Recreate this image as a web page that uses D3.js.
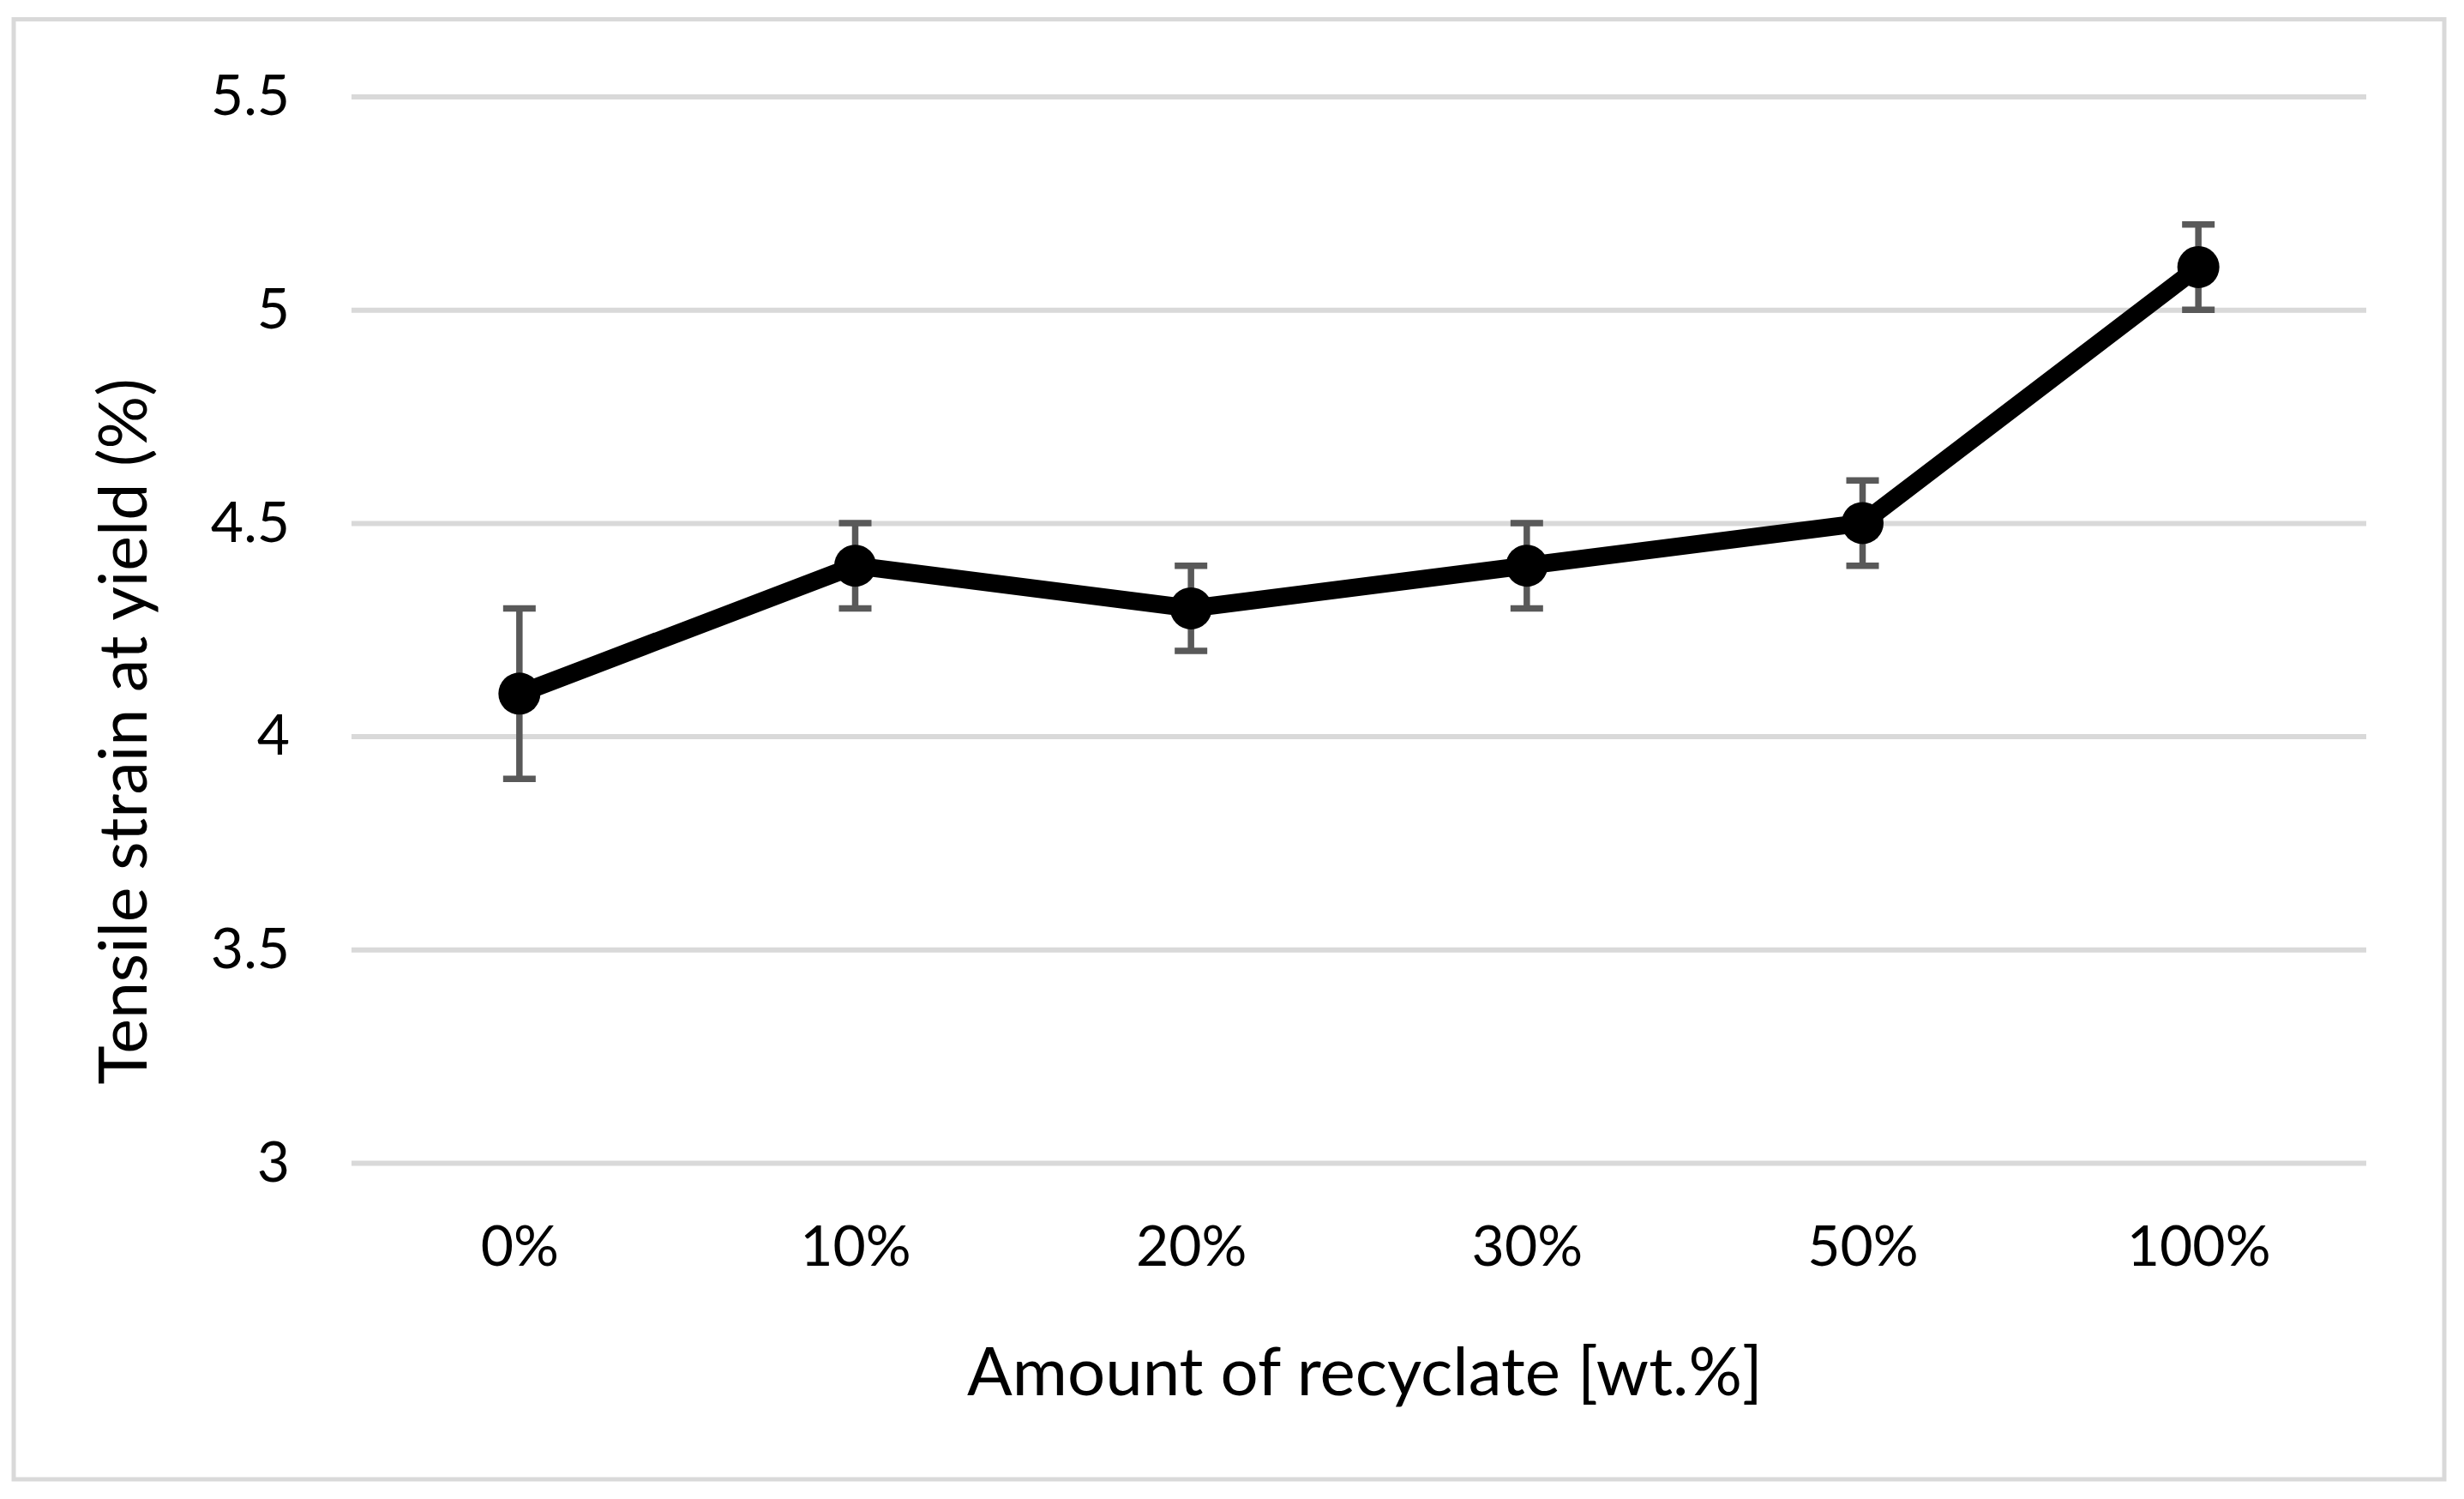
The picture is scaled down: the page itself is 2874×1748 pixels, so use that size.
<!DOCTYPE html>
<html>
<head>
  <script src="https://d3js.org/d3.v7.min.js"></script>
  <style>
    * { margin: 0; box-sizing: border-box; }
    body { background: #fff; }
    svg text { font-family: Lato, "Open Sans", sans-serif; fill: #000; }
    .grid line { stroke: #d9d9d9; stroke-width: 6px; }
  </style>
</head>
<body>
  <script>
    // data
    const categories = ["0%", "10%", "20%", "30%", "50%", "100%"];
    const strain = [4.1, 4.4, 4.3, 4.4, 4.5, 5.1];
    const strainErr = [0.2, 0.1, 0.1, 0.1, 0.1, 0.1];
    const yTicks = [3, 3.5, 4, 4.5, 5, 5.5];

    const width = 2874, height = 1748;

    const svg = d3.select("body").append("svg")
      .attr("width", width)
      .attr("height", height);

    // outer chart border
    svg.append("rect")
      .attr("x", 16).attr("y", 22.5)
      .attr("width", 2851 - 16).attr("height", 1725 - 22.5)
      .attr("fill", "#fff")
      .attr("stroke", "#d9d9d9")
      .attr("stroke-width", 5);

    const plotL = 410, plotR = 2760, plotT = 112.5, plotB = 1356;

    const x = d3.scalePoint().domain(categories).range([plotL, plotR]).padding(0.5);
    const y = d3.scaleLinear().domain([3, 5.5]).range([plotB, plotT]);

    // y axis with gridlines
    const yAxis = svg.append("g")
      .attr("class", "grid")
      .attr("transform", `translate(${plotL},0)`)
      .call(d3.axisLeft(y).tickValues(yTicks).tickFormat(d3.format("")).tickSizeInner(-(plotR - plotL)).tickSizeOuter(0).tickPadding(72));
    yAxis.select(".domain").remove();
    yAxis.selectAll("text")
      .attr("x", -72)
      .style("font-size", "66px")
      .style("font-family", "Lato, sans-serif");

    // x axis labels
    const xAxis = svg.append("g")
      .attr("transform", `translate(0,${plotB})`)
      .call(d3.axisBottom(x).tickSize(0).tickPadding(73));
    xAxis.select(".domain").remove();
    xAxis.selectAll("text")
      .style("font-size", "66px")
      .style("font-family", "Lato, sans-serif");

    // error bars
    const capW = 19;
    const bars = svg.append("g").attr("stroke", "#595959").attr("stroke-width", 7.5);
    categories.forEach((c, i) => {
      const cx = x(c);
      const hi = y(strain[i] + strainErr[i]);
      const lo = y(strain[i] - strainErr[i]);
      bars.append("line").attr("x1", cx).attr("x2", cx).attr("y1", hi).attr("y2", lo);
      bars.append("line").attr("x1", cx - capW).attr("x2", cx + capW).attr("y1", hi).attr("y2", hi);
      bars.append("line").attr("x1", cx - capW).attr("x2", cx + capW).attr("y1", lo).attr("y2", lo);
    });

    // line + markers
    const line = d3.line()
      .x((d, i) => x(categories[i]))
      .y(d => y(d));

    svg.append("path")
      .datum(strain)
      .attr("fill", "none")
      .attr("stroke", "#000")
      .attr("stroke-width", 21)
      .attr("stroke-linejoin", "round")
      .attr("d", line);

    svg.selectAll(".pt")
      .data(strain)
      .enter().append("circle")
      .attr("class", "pt")
      .attr("cx", (d, i) => x(categories[i]))
      .attr("cy", d => y(d))
      .attr("r", 24.5)
      .attr("fill", "#000");

    // axis titles
    svg.append("text")
      .attr("x", 1592)
      .attr("y", 1627)
      .attr("text-anchor", "middle")
      .style("font-size", "78px")
      .text("Amount of recyclate [wt.%]");

    svg.append("text")
      .attr("transform", "translate(171,853) rotate(-90)")
      .attr("text-anchor", "middle")
      .style("font-size", "77px")
      .text("Tensile strain at yield (%)");
  </script>
</body>
</html>
